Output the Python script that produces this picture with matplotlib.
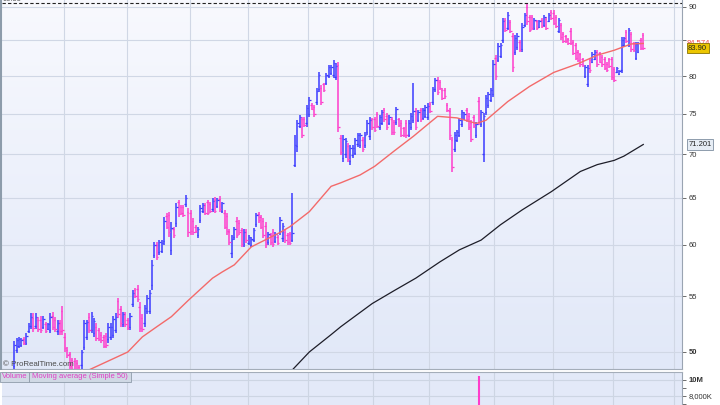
import numpy as np
import matplotlib.pyplot as plt
from matplotlib.colors import LinearSegmentedColormap
from matplotlib.patches import Rectangle
from matplotlib.lines import Line2D
from matplotlib.ticker import NullLocator, NullFormatter, FixedLocator

plt.rcParams['font.family'] = ['Liberation Sans', 'DejaVu Sans']

# daily OHLC (left to right)
opens = [
    48.8, 50.2, 50.5, 50.6, 51.1, 50.8, 51.8, 52.3, 53.0, 52.3,
    52.8, 52.8, 52.2, 52.4, 52.0, 51.9, 53.2, 52.8, 51.8, 52.5,
    53.6, 51.3, 50.2, 49.8, 49.3, 49.2, 49.1, 48.7, 48.9, 50.4,
    51.3, 53.1, 51.9, 51.6, 52.2, 51.9, 51.5, 51.3, 51.4, 51.1,
    51.3, 51.5, 51.9, 54.5, 53.8, 52.4, 53.3, 52.8, 52.2, 54.3,
    55.6, 55.7, 54.0, 53.0, 52.5, 53.6, 53.6, 56.0, 59.0, 60.0,
    59.3, 59.4, 60.4, 63.0, 63.1, 59.5, 61.7, 62.3, 64.5, 64.0,
    64.0, 64.3, 63.5, 63.4, 62.5, 61.9, 61.0, 62.6, 63.6, 64.2,
    64.5, 64.3, 63.8, 64.8, 64.1, 64.9, 63.6, 63.4, 63.0, 61.3,
    59.2, 60.8, 62.5, 62.3, 61.5, 60.1, 61.3, 60.2, 60.0, 60.5,
    62.2, 63.3, 62.9, 62.5, 62.0, 60.3, 61.0, 61.3, 60.4, 60.8,
    61.3, 60.7, 61.3, 61.0, 61.1, 60.5, 68.8, 71.0, 73.5, 74.3,
    74.4, 73.8, 75.0, 76.2, 75.9, 76.5, 78.3, 78.4, 78.9, 79.1,
    80.0, 80.4, 80.1, 79.9, 81.5, 72.0, 69.6, 70.0, 71.0, 69.2,
    69.9, 70.2, 71.2, 71.1, 71.8, 71.1, 72.7, 72.2, 74.3, 74.3,
    75.0, 73.3, 73.9, 75.5, 74.8, 73.8, 74.3, 74.0, 74.0, 74.3,
    73.9, 73.2, 73.9, 72.4, 73.3, 74.2, 75.4, 74.2, 75.5, 74.5,
    74.8, 74.6, 76.3, 76.5, 78.2, 79.5, 79.2, 78.1, 78.1, 76.1,
    75.4, 71.7, 70.7, 71.8, 72.4, 73.7, 74.4, 75.5, 74.8, 73.9,
    74.6, 72.3, 76.7, 73.7, 70.0, 75.2, 76.1, 76.8, 77.6, 82.5,
    82.2, 82.8, 85.0, 88.0, 86.8, 87.7, 85.7, 83.3, 84.0, 84.8,
    83.8, 87.3, 90.0, 88.4, 88.4, 86.8, 87.8, 87.0, 88.0, 87.3,
    88.2, 87.9, 89.3, 89.1, 88.5, 86.4, 87.2, 86.0, 85.6, 85.2,
    86.4, 84.8, 84.3, 83.4, 83.0, 82.3, 80.0, 78.9, 82.2, 82.0,
    82.4, 83.3, 83.2, 82.7, 82.4, 81.7, 82.3, 82.3, 81.0, 80.6,
    80.3, 80.8, 84.3, 86.2, 84.4, 85.9, 84.6, 82.5, 83.4, 85.1,
    85.8,
]
highs = [
    50.9, 51.2, 51.3, 51.2, 51.3, 51.6, 52.5, 53.4, 53.4, 53.4,
    53.1, 53.2, 53.2, 52.6, 52.5, 53.4, 53.5, 53.1, 52.8, 52.8,
    54.1, 51.6, 50.4, 50.0, 49.5, 49.5, 49.3, 48.9, 50.2, 52.8,
    52.8, 53.4, 53.5, 53.0, 52.5, 52.1, 51.7, 51.5, 51.6, 52.5,
    52.5, 53.2, 53.4, 54.8, 54.1, 53.5, 53.5, 53.0, 53.4, 55.6,
    55.8, 56.0, 54.4, 53.3, 54.2, 55.1, 55.6, 58.5, 60.3, 60.3,
    60.5, 60.5, 62.9, 63.4, 63.5, 62.4, 61.9, 64.4, 64.8, 64.2,
    64.2, 65.3, 63.9, 63.7, 62.8, 62.1, 61.9, 64.2, 64.4, 64.4,
    64.8, 64.6, 65.0, 65.1, 65.0, 65.2, 64.6, 63.7, 63.4, 61.6,
    61.0, 61.9, 62.9, 62.6, 61.8, 61.6, 61.6, 61.0, 60.8, 61.8,
    63.4, 63.5, 63.1, 62.8, 62.4, 61.3, 61.2, 61.6, 61.3, 61.0,
    62.9, 62.3, 61.6, 61.2, 61.3, 65.6, 72.4, 74.2, 74.9, 74.6,
    74.6, 76.2, 77.2, 76.4, 76.2, 78.4, 80.6, 78.8, 79.1, 80.4,
    81.5, 81.5, 82.2, 81.8, 81.9, 72.4, 72.4, 72.0, 71.4, 71.1,
    71.1, 72.0, 72.6, 72.6, 72.1, 72.7, 74.2, 74.6, 74.5, 74.6,
    75.3, 74.9, 75.5, 75.8, 75.1, 74.9, 74.6, 74.2, 75.9, 74.5,
    74.2, 73.4, 74.2, 74.2, 75.1, 79.1, 75.8, 75.5, 75.8, 75.8,
    76.2, 76.4, 76.5, 78.5, 79.7, 79.9, 79.5, 78.4, 78.4, 76.4,
    75.8, 72.1, 72.7, 73.0, 74.5, 75.5, 75.3, 75.8, 75.1, 74.2,
    74.9, 74.0, 77.2, 75.5, 75.1, 77.5, 77.9, 78.4, 82.2, 82.9,
    84.6, 84.6, 88.3, 88.3, 89.2, 88.0, 86.1, 85.8, 86.1, 85.1,
    87.6, 89.1, 90.55, 88.8, 88.8, 88.3, 88.0, 88.0, 88.3, 88.8,
    88.5, 89.1, 89.5, 89.5, 88.8, 88.3, 87.6, 86.2, 85.8, 85.4,
    86.8, 85.1, 84.6, 83.6, 83.2, 82.5, 81.5, 81.5, 82.5, 83.4,
    83.6, 83.6, 83.4, 82.9, 82.7, 81.9, 82.5, 82.7, 81.3, 81.3,
    80.8, 85.5, 85.5, 86.5, 86.8, 86.2, 84.8, 84.8, 84.8, 85.4,
    86.1,
]
lows = [
    48.3, 49.9, 50.3, 50.4, 50.6, 50.6, 51.6, 52.0, 51.7, 52.0,
    51.7, 51.6, 52.0, 51.6, 51.9, 51.6, 51.9, 51.7, 51.5, 51.5,
    51.5, 50.0, 49.5, 48.5, 48.3, 48.3, 48.2, 48.1, 48.6, 50.2,
    51.0, 51.6, 51.6, 51.3, 50.9, 50.9, 50.8, 50.3, 50.3, 50.8,
    51.0, 51.2, 51.6, 53.0, 52.2, 52.2, 52.2, 51.9, 51.9, 54.0,
    54.8, 54.4, 51.7, 51.7, 52.2, 53.3, 53.3, 55.6, 58.7, 58.5,
    59.0, 59.2, 60.0, 61.6, 60.8, 59.0, 60.7, 61.9, 62.9, 63.1,
    62.9, 64.0, 60.8, 61.0, 61.0, 61.2, 60.7, 62.3, 63.4, 63.1,
    63.1, 63.4, 63.5, 63.4, 63.9, 63.5, 63.4, 61.6, 61.0, 60.0,
    58.7, 60.5, 60.7, 61.0, 59.8, 59.8, 60.2, 60.0, 59.8, 60.3,
    61.9, 62.3, 61.6, 60.7, 59.7, 60.0, 60.0, 59.8, 60.2, 60.0,
    61.0, 60.3, 60.2, 60.0, 60.0, 60.3, 68.5, 70.3, 73.2, 72.0,
    73.4, 73.4, 74.6, 75.5, 74.6, 76.2, 77.9, 76.2, 77.9, 78.8,
    79.7, 80.2, 79.7, 79.5, 72.7, 69.9, 69.1, 69.6, 69.1, 68.8,
    69.6, 69.9, 70.9, 70.8, 70.3, 70.8, 72.4, 71.8, 73.0, 72.7,
    73.2, 73.0, 73.6, 74.0, 73.0, 73.6, 72.4, 72.4, 73.6, 73.4,
    72.1, 72.1, 72.0, 72.1, 73.0, 73.9, 73.0, 74.0, 74.0, 74.2,
    74.5, 74.2, 75.1, 76.2, 77.9, 77.5, 78.1, 76.8, 77.0, 75.3,
    71.8, 67.9, 70.3, 71.5, 72.1, 73.4, 74.2, 74.0, 73.0, 71.5,
    73.2, 72.0, 73.6, 73.4, 69.1, 74.9, 75.8, 76.5, 77.2, 79.5,
    81.9, 82.5, 84.6, 86.2, 86.5, 86.1, 80.6, 82.9, 83.6, 83.4,
    83.4, 87.0, 87.3, 86.2, 86.5, 86.5, 86.5, 86.8, 86.8, 87.0,
    86.5, 87.7, 88.0, 87.3, 86.8, 86.1, 85.1, 84.6, 84.6, 84.4,
    84.4, 82.9, 82.2, 81.9, 81.3, 81.3, 79.7, 78.5, 80.4, 81.8,
    82.2, 81.3, 81.8, 81.3, 80.8, 80.6, 81.1, 79.5, 79.2, 80.4,
    80.2, 80.4, 84.1, 84.6, 84.1, 83.4, 83.4, 82.2, 83.2, 83.6,
    83.6,
]
closes = [
    50.6, 51.0, 51.1, 51.0, 50.8, 51.4, 52.3, 53.1, 52.1, 53.1,
    52.0, 51.9, 52.9, 51.8, 52.4, 53.1, 52.2, 52.0, 52.5, 51.8,
    51.9, 50.3, 49.7, 48.8, 48.6, 48.5, 48.4, 48.3, 50.0, 52.5,
    52.6, 51.9, 53.2, 52.7, 51.2, 51.1, 51.0, 50.5, 50.6, 52.2,
    52.2, 52.9, 53.1, 53.3, 52.5, 53.3, 52.4, 52.1, 53.2, 55.3,
    55.0, 54.7, 52.1, 52.0, 53.9, 54.8, 55.3, 58.0, 60.0, 58.8,
    60.3, 60.2, 62.5, 61.9, 61.3, 61.8, 61.0, 64.0, 63.2, 63.4,
    63.1, 65.0, 61.3, 61.4, 61.3, 61.4, 61.7, 63.9, 64.2, 63.4,
    63.4, 63.6, 64.7, 63.6, 64.8, 63.8, 64.4, 61.9, 61.4, 60.3,
    60.6, 61.6, 61.0, 61.3, 60.1, 61.3, 60.5, 60.8, 60.6, 61.5,
    63.1, 62.6, 61.9, 61.0, 60.1, 61.1, 60.3, 60.1, 61.1, 60.2,
    62.6, 62.0, 60.5, 60.3, 60.2, 61.2, 71.1, 73.8, 74.6, 72.4,
    73.6, 75.8, 76.8, 75.7, 75.0, 78.0, 80.2, 76.6, 78.1, 80.1,
    81.2, 81.2, 81.8, 81.4, 73.4, 70.3, 71.9, 71.6, 69.5, 70.8,
    70.8, 71.7, 72.3, 72.3, 70.6, 72.4, 73.9, 74.2, 73.3, 73.0,
    73.5, 74.6, 75.2, 74.3, 73.3, 74.6, 72.7, 72.7, 75.6, 73.6,
    72.4, 72.4, 72.3, 73.9, 74.8, 75.4, 73.4, 75.2, 74.3, 75.5,
    75.9, 76.0, 75.4, 78.2, 79.4, 77.9, 78.4, 77.1, 77.3, 75.5,
    72.3, 68.5, 72.3, 72.7, 74.2, 75.2, 75.0, 74.3, 73.3, 71.9,
    73.5, 73.7, 74.0, 75.2, 74.8, 77.1, 77.6, 78.1, 81.6, 80.0,
    84.2, 84.3, 87.9, 86.5, 88.8, 86.4, 81.2, 85.4, 85.7, 83.7,
    87.0, 88.7, 87.8, 86.6, 86.9, 88.0, 86.8, 87.8, 87.1, 88.5,
    86.8, 88.8, 88.3, 87.6, 87.1, 88.0, 85.5, 84.9, 84.9, 84.6,
    84.7, 83.2, 82.5, 82.2, 81.6, 81.5, 81.2, 81.1, 80.8, 83.1,
    83.4, 81.6, 82.0, 81.6, 81.1, 80.8, 81.4, 79.9, 79.5, 81.1,
    80.7, 85.0, 85.3, 84.9, 86.5, 83.8, 83.6, 84.5, 84.6, 83.9,
    83.9,
]

# moving averages, sampled off the chart (bar index, value)
ma_short_idx = [30, 31, 47, 53, 59, 65, 72, 82, 86, 91, 98, 110, 114, 122, 131,
                135, 143, 149, 157, 165, 173, 175, 183, 191, 195, 204, 213, 223,
                233, 241, 248, 255, 260]
ma_short = [48.4, 48.5, 50.0, 51.3, 52.2, 53.1, 54.6, 56.7, 57.3, 58.0, 59.8,
            61.3, 61.9, 63.5, 66.3, 66.7, 67.6, 68.6, 70.4, 72.2, 74.2, 74.7,
            74.5, 73.8, 74.2, 76.6, 78.6, 80.5, 81.7, 82.9, 83.6, 84.5, 84.574]
ma_long_idx = [115, 122, 131, 135, 140, 148, 157, 166, 176, 184, 193, 201, 210,
               222, 234, 241, 248, 252, 260]
ma_long = [48.5, 50.0, 51.5, 52.2, 53.0, 54.3, 55.5, 56.7, 58.3, 59.5, 60.5,
           62.1, 63.7, 65.7, 68.0, 68.8, 69.3, 69.8, 71.201]

highest = 90.55
month_starts = [20.5, 46.5, 72.5, 96.5, 121.5, 148.5, 171.5, 198.5, 222.5, 247.5, 272.5]
price_ticks = [50, 55, 60, 65, 70, 75, 80, 85, 90]
price_labels = ['50', '55', '60', '65', '70', '75', '80', '', '90']

vol_idx = [192]
vol_vals = [10.5e6]
vol_ticks = [8e6, 10e6]
vol_labels = ['8,000K', '10M']

BLUE = '#3b3bff'
PINK = '#ff3ccb'
W, H = 720, 405


def rect(x0, y0, x1, y1):
    return [x0 / W, 1 - y1 / H, (x1 - x0) / W, (y1 - y0) / H]


fig = plt.figure(figsize=(7.2, 4.05), dpi=100, facecolor='white')
main_rect = rect(2, 0, 682, 369)
vol_rect = rect(2, 372, 682, 405)

bg = fig.add_axes(main_rect, zorder=0)
bg.imshow(np.linspace(0, 1, 256).reshape(-1, 1), aspect='auto', extent=[0, 1, 0, 1],
          cmap=LinearSegmentedColormap.from_list('bg', ['#f8f9fe', '#e1e8f8']))
bg.axis('off')

ax = fig.add_axes(main_rect, zorder=1)
ax.patch.set_alpha(0)

x = np.arange(len(closes))
o, h, l, c = (np.array(v) for v in (opens, highs, lows, closes))
cols = np.where(c >= o, BLUE, PINK)
ax.vlines(x, l, h, colors=cols, lw=1.1, zorder=3)
ax.hlines(o, x - 0.6, x, colors=cols, lw=0.9, zorder=3)
ax.hlines(c, x, x + 0.6, colors=cols, lw=0.9, zorder=3)

ax.plot(ma_short_idx, ma_short, color='#f36a6a', lw=1.0, zorder=4)
ax.plot(ma_long_idx, ma_long, color='#1d1d28', lw=0.9, zorder=4)
ax.axhline(highest, color='#222222', lw=0.8, ls=(0, (3, 2)), zorder=5)

ax.set_yscale('log')
ax.set_ylim(48.57, 91.07)
ax.set_xlim(-5, 276)
ax.yaxis.tick_right()
ax.yaxis.set_major_locator(FixedLocator(price_ticks))
ax.set_yticklabels(price_labels)
ax.yaxis.set_minor_locator(NullLocator())
ax.yaxis.set_minor_formatter(NullFormatter())
ax.set_xticks(month_starts)
ax.tick_params(axis='x', length=0, labelbottom=False)
ax.tick_params(axis='y', length=3, width=0.6, color='#555555', pad=2,
               labelsize=5.5, labelcolor='#333333')
ax.get_yticklabels()[0].set_fontweight('bold')
ax.grid(True, color='#d0d7e5', lw=0.8, zorder=1)
ax.set_axisbelow(True)
for side in ['top', 'left']:
    ax.spines[side].set_visible(False)
ax.spines['right'].set_color('#9aa4b2')
ax.spines['right'].set_linewidth(0.8)
ax.spines['bottom'].set_color('#a4adb9')
ax.spines['bottom'].set_linewidth(0.8)

# value tags on the right
ax.text(1.007, ma_short[-1], '84.574', transform=ax.get_yaxis_transform(),
        fontsize=5.5, color='#f04848', va='center', ha='left', clip_on=False, zorder=6)
ax.text(1.009, closes[-1], '83.90', transform=ax.get_yaxis_transform(),
        fontsize=5.5, color='#222222', va='center', ha='left', clip_on=False, zorder=7,
        bbox=dict(boxstyle='square,pad=0.2', fc='#ecc600', ec='#8a7400', lw=0.6))
ax.text(1.009, ma_long[-1], '71.201', transform=ax.get_yaxis_transform(),
        fontsize=5.5, color='#222222', va='center', ha='left', clip_on=False, zorder=7,
        bbox=dict(boxstyle='square,pad=0.2', fc='#e6edf5', ec='#7d8da0', lw=0.6))

ax.text(0.001, highest, '90.55', transform=ax.get_yaxis_transform(), fontsize=5.5,
        color='#555555', va='bottom', ha='left', clip_on=False)
ax.text(0.002, 0.004, '\u00a9 ProRealTime.com', transform=ax.transAxes, fontsize=5.7,
        color='#4a4a4a', va='bottom', ha='left')

fig.add_artist(Line2D([1 / W, 1 / W], [1 - 369 / H, 1], transform=fig.transFigure,
                      color='#8d9cab', lw=1.5))

# volume panel
vbg = fig.add_axes(vol_rect, zorder=0)
vbg.set_facecolor('#e3e9f8')
vbg.set_xticks([])
vbg.set_yticks([])
for s in vbg.spines.values():
    s.set_visible(False)

vax = fig.add_axes(vol_rect, zorder=1)
vax.patch.set_alpha(0)
vax.vlines(vol_idx, 0, vol_vals, colors=PINK, lw=1.5, zorder=3)
vax.set_xlim(-5, 276)
vax.set_ylim(6.875e6, 11e6)
vax.yaxis.tick_right()
vax.yaxis.set_major_locator(FixedLocator(vol_ticks))
vax.set_yticklabels(vol_labels)
vax.yaxis.set_minor_locator(FixedLocator([7e6, 9e6]))
vax.set_xticks(month_starts)
vax.tick_params(axis='x', length=0, labelbottom=False)
vax.tick_params(axis='y', which='both', length=3, width=0.6, color='#555555', pad=2,
                labelsize=5.5, labelcolor='#333333')
vax.get_yticklabels()[1].set_fontweight('bold')
vax.grid(True, color='#cdd5e3', lw=0.8, zorder=1)
vax.set_axisbelow(True)
for side in ['bottom', 'left']:
    vax.spines[side].set_visible(False)
vax.spines['top'].set_color('#a4adb9')
vax.spines['top'].set_linewidth(0.8)
vax.spines['right'].set_color('#9aa4b2')
vax.spines['right'].set_linewidth(0.8)

# indicator name box
for x0, x1 in [(0, 29), (29, 131)]:
    fig.add_artist(Rectangle((x0 / W, 1 - 382 / H), (x1 - x0) / W, 10 / H,
                             transform=fig.transFigure, fc='#d0d9e5', ec='#8f9cab',
                             lw=0.6, zorder=5))
fig.text(2 / W, 1 - 377 / H, 'Volume', fontsize=5.5, color='#e03ec6',
         va='center', ha='left', zorder=6)
fig.text(32 / W, 1 - 377 / H, 'Moving average (Simple 50)', fontsize=5.5,
         color='#e03ec6', va='center', ha='left', zorder=6)

fig.savefig('out.png', dpi=100, facecolor='white')
